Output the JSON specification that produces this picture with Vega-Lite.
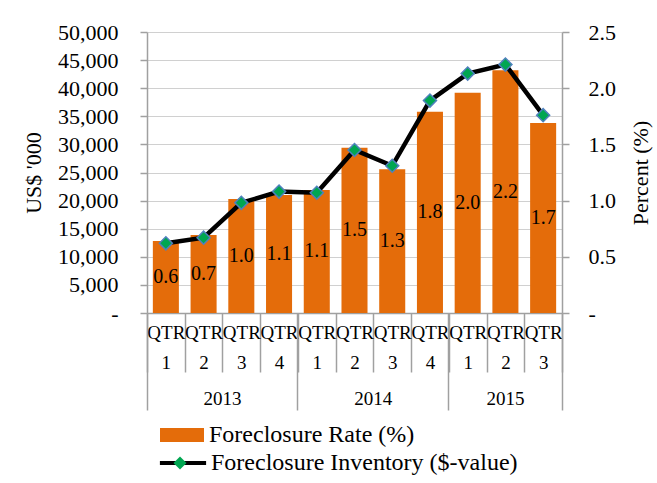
{
  "$schema": "https://vega.github.io/schema/vega-lite/v6.json",
  "autosize": "none",
  "width": 415,
  "height": 281,
  "padding": {"left": 147, "top": 32, "right": 95, "bottom": 170},
  "data": {
    "values": [
      {"qtr": "2013 Q1", "amount": 12800, "pct": 0.62, "rate": 0.6},
      {"qtr": "2013 Q2", "amount": 13900, "pct": 0.67, "rate": 0.7},
      {"qtr": "2013 Q3", "amount": 20300, "pct": 0.98, "rate": 1.0},
      {"qtr": "2013 Q4", "amount": 21000, "pct": 1.08, "rate": 1.1},
      {"qtr": "2014 Q1", "amount": 21900, "pct": 1.07, "rate": 1.1},
      {"qtr": "2014 Q2", "amount": 29400, "pct": 1.45, "rate": 1.5},
      {"qtr": "2014 Q3", "amount": 25600, "pct": 1.31, "rate": 1.3},
      {"qtr": "2014 Q4", "amount": 35800, "pct": 1.89, "rate": 1.8},
      {"qtr": "2015 Q1", "amount": 39200, "pct": 2.13, "rate": 2.0},
      {"qtr": "2015 Q2", "amount": 43200, "pct": 2.21, "rate": 2.2},
      {"qtr": "2015 Q3", "amount": 33800, "pct": 1.76, "rate": 1.7}
    ]
  },
  "resolve": {
    "scale": {"y": "independent"},
    "axis": {"x": "independent", "y": "independent"}
  },
  "layer": [
    {
      "mark": {"type": "bar", "width": {"band": 0.69}},
      "encoding": {
        "x": {
          "field": "qtr", "type": "nominal", "sort": null,
          "scale": {"paddingInner": 0, "paddingOuter": 0},
          "axis": {
            "orient": "bottom",
            "title": null, "tickBand": "extent", "tickSize": 59,
            "labelExpr": "isString(datum.value) ? ['QTR', substring(datum.value, 6)] : ''",
            "labelLineHeight": 30, "labelPadding": -49, "labelBaseline": "top",
            "labelFontSize": 19, "labelAngle": 0, "labelOverlap": false, "grid": false
          }
        },
        "y": {
          "field": "amount", "type": "quantitative",
          "scale": {"domain": [0, 50000], "nice": false},
          "axis": {
            "orient": "left",
            "values": [0, 5000, 10000, 15000, 20000, 25000, 30000, 35000, 40000, 45000, 50000],
            "labelExpr": "datum.value == 0 ? '-\u00a0\u00a0' : format(datum.value, ',')",
            "grid": true, "tickSize": 7, "labelPadding": 22, "labelFontSize": 22,
            "title": "US$ '000", "titleFontSize": 22, "titleAngle": -90,
            "titleX": -114, "titleY": 140.5, "titleAlign": "center", "titleBaseline": "middle"
          }
        },
        "fill": {
          "datum": "Foreclosure Rate (%)", "type": "nominal",
          "scale": {"range": ["#e46c0a"]},
          "legend": {
            "orient": "none", "legendX": 23, "legendY": 391, "title": null,
            "padding": 0, "labelOffset": 15,
            "symbolType": "M-2,-0.64H2V0.64H-2Z", "symbolSize": 484,
            "symbolStrokeWidth": 0, "labelFontSize": 24, "labelLimit": 0
          }
        }
      }
    },
    {
      "transform": [{"calculate": "datum.amount / 2", "as": "mid"}],
      "mark": {"type": "text", "fontSize": 20, "baseline": "middle", "align": "center", "color": "#000000"},
      "encoding": {
        "x": {
          "field": "qtr", "type": "nominal", "sort": null,
          "scale": {"paddingInner": 0, "paddingOuter": 0},
          "axis": {
            "orient": "bottom",
            "title": null, "values": ["2013 Q1", "2014 Q1", "2015 Q1"], "bandPosition": 0,
            "tickSize": 97, "labels": false, "domain": false, "grid": false
          }
        },
        "y": {"field": "mid", "type": "quantitative", "scale": {"domain": [0, 50000], "nice": false}, "axis": null},
        "text": {"field": "rate", "type": "quantitative", "format": ".1f"}
      }
    },
    {
      "mark": {"type": "line", "strokeWidth": 4.5},
      "encoding": {
        "x": {
          "field": "qtr", "type": "nominal", "sort": null,
          "scale": {"paddingInner": 0, "paddingOuter": 0},
          "axis": {
            "orient": "bottom",
            "title": null, "values": ["2013 Q2", "2014 Q2", "2015 Q2"],
            "ticks": false, "tickSize": 0, "domain": false, "grid": false,
            "labelExpr": "substring(datum.value, 0, 4)", "labelAngle": 0, "labelAlign": "center",
            "labelOffset": {"condition": {"test": "datum.value === '2015 Q2'", "value": 0}, "value": 18.86},
            "labelPadding": 76, "labelBaseline": "top", "labelFontSize": 19, "labelOverlap": false
          }
        },
        "y": {
          "field": "pct", "type": "quantitative",
          "scale": {"domain": [0, 2.5], "nice": false},
          "axis": {
            "orient": "right",
            "values": [0, 0.5, 1, 1.5, 2, 2.5],
            "labelExpr": "datum.value == 0 ? '-' : format(datum.value, '.1f')",
            "grid": false, "tickSize": 7, "labelPadding": 19, "labelFontSize": 22,
            "title": "Percent (%)", "titleFontSize": 22, "titleAngle": -90,
            "titleX": 78, "titleY": 140.5, "titleAlign": "center", "titleBaseline": "middle"
          }
        },
        "stroke": {
          "datum": "Foreclosure Inventory ($-value)", "type": "nominal",
          "scale": {"range": ["#000000"]},
          "legend": {
            "orient": "none", "legendX": 23, "legendY": 418, "title": null,
            "padding": 0, "labelOffset": 15,
            "symbolType": "M-2.1,0H2.1", "symbolSize": 484,
            "symbolStrokeWidth": 4, "labelFontSize": 24, "labelLimit": 0
          }
        }
      }
    },
    {
      "mark": {"type": "point", "filled": true, "fill": "#00a651", "stroke": "#4f81bd", "strokeWidth": 1.5, "size": 170, "opacity": 1},
      "encoding": {
        "x": {
          "field": "qtr", "type": "nominal", "sort": null,
          "scale": {"paddingInner": 0, "paddingOuter": 0},
          "axis": {
            "orient": "bottom",
            "title": null, "values": ["2015 Q3"], "bandPosition": 1,
            "tickSize": 97, "labels": false, "domain": false, "grid": false
          }
        },
        "y": {"field": "pct", "type": "quantitative", "scale": {"domain": [0, 2.5], "nice": false}, "axis": null},
        "shape": {
          "datum": "marker", "type": "nominal",
          "scale": {"range": ["diamond"]},
          "legend": {
            "orient": "none", "legendX": 22, "legendY": 420, "title": null, "padding": 0,
            "labelExpr": "''", "symbolSize": 170,
            "symbolFillColor": "#00a651", "symbolStrokeColor": "#4f81bd", "symbolStrokeWidth": 1.5
          }
        }
      }
    }
  ],
  "config": {
    "view": {"stroke": null},
    "font": "Liberation Serif",
    "axis": {
      "labelFont": "Liberation Serif", "titleFont": "Liberation Serif",
      "labelColor": "#000000", "titleColor": "#000000", "titleFontWeight": "normal",
      "domainColor": "#a0a0a0", "tickColor": "#a0a0a0", "gridColor": "#d0d0d0",
      "domainWidth": 1.5, "tickWidth": 1.5
    },
    "legend": {"labelFont": "Liberation Serif", "labelFontSize": 22, "labelColor": "#000000"},
    "text": {"font": "Liberation Serif"}
  }
}
